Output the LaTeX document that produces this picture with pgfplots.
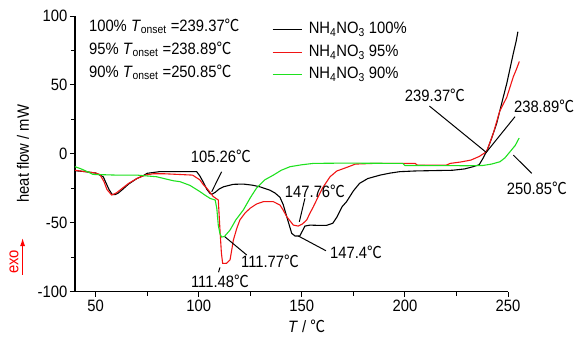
\documentclass[border=0pt]{standalone}
\usepackage{fontspec}
\setmainfont{Liberation Sans}[FakeStretch=0.9]
\newfontfamily\cjk{Noto Sans CJK SC}[FakeStretch=0.9]
\usepackage{pgfplots}
\pgfplotsset{compat=1.18}
\usetikzlibrary{arrows.meta}
\newcommand{\dc}{{\cjk ℃}}
\definecolor{cgreen}{RGB}{30,225,30}
\definecolor{cred}{RGB}{240,20,20}
\begin{document}
\begin{tikzpicture}[font=\fontsize{16.5}{19}\selectfont]
\useasboundingbox (-75bp,-46.5bp) rectangle (512bp,291.5bp);
\begin{axis}[
  at={(0,0)}, anchor=south west,
  scale only axis, width=433bp, height=275.5bp,
  xmin=40, xmax=250, ymin=-100, ymax=100,
  axis x line*=bottom, axis y line*=left,
  axis line style={line width=1.2pt},
  xtick={50,100,150,200,250}, minor xtick={75,125,175,225},
  ytick={-100,-50,0,50,100}, minor ytick={-75,-25,25,75},
  tick align=outside,
  major tick length=5bp, minor tick length=4bp,
  every tick/.style={line width=1pt, black},
  /pgf/number format/assume math mode=true,
  yticklabel style={inner sep=2.5bp},
  clip=false,
  xlabel={\textit{T} / \dc},
  ylabel={heat flow / mW},
  xlabel style={at={(axis description cs:0.535,-0.125)}, anchor=center},
  ylabel style={at={(axis description cs:-0.12,0.5)}, anchor=center},
  legend image code/.code={\draw[#1] (0bp,0bp) -- (29bp,0bp);},
  legend style={at={(axis description cs:0.448,0.99)}, anchor=north west,
    draw=none, fill=none, row sep=5bp,
    nodes={inner sep=1.5bp, text height=11.5bp, text depth=3bp},
    /tikz/every odd column/.append style={column sep=5bp}},
  legend cell align=left,
]
\addplot[black, line width=1.1pt] coordinates {
(40,-12.3) (45,-13) (50,-14) (53.7,-16.7) (55,-21) (56.5,-26) (58,-29.5) (59.4,-29.7) (61,-28.5) (63,-26) (66,-22) (70,-18) (73,-16) (75,-14.2) (81,-13) (90,-13) (99,-13)
(100.5,-16) (102,-20) (104,-26) (105.5,-28.8) (106.3,-29.5) (108,-28) (110,-25.5) (112,-24) (116.8,-22.2) (121.6,-22) (126,-22.8) (129.7,-24) (134.6,-26.5) (137,-28.5) (139.4,-31.6) (141,-37) (142.7,-45.7) (145.1,-57.8) (146.7,-59.7) (149,-59.7) (150.3,-56) (151.5,-52.5) (154,-51.8) (158,-52) (162,-52) (165,-50.5) (167,-46) (169.5,-38.5) (171.7,-34.8) (175,-27) (178,-21.5) (182,-18) (188,-15.5) (193,-14) (197.6,-13) (205,-12.5) (215,-12.2) (223,-12) (229,-11) (233,-9.4) (236,-8) (238,-3) (240,3) (242,11) (244.5,22) (247,37) (249.4,51) (251,62) (252.6,73) (254,82) (254.8,88.6)
};
\addlegendentry{NH\textsubscript{4}NO\textsubscript{3} 100\%}
\addplot[cred, line width=1.1pt] coordinates {
(40,-12) (45,-13) (50,-14) (52,-15) (54,-20) (55.5,-26) (57.8,-30) (60,-28.5) (63,-25) (66,-21.5) (70,-18) (74,-15.5) (78,-14.5) (83,-14.5) (90,-15) (97,-15.5)
(100.6,-19) (102,-22) (103.9,-25) (105.5,-28) (107,-31) (109.5,-33.6) (110.3,-55) (111,-72) (111.6,-79.6) (113.5,-79.5) (115.2,-77) (116,-70) (116.8,-62.7) (118.5,-54) (120,-48) (122.5,-43) (124.9,-39.6) (128,-36.5) (131.3,-34.8) (136.2,-34.8) (139.4,-37.2) (141,-41) (142.7,-45.7) (145.9,-51.8) (148.3,-52.5) (150.3,-51) (152.4,-48) (154,-43) (155.6,-38.5) (158,-31) (160,-25) (163.7,-16.7) (167,-12.5) (171.8,-9.9) (176,-7.5) (185,-7) (205,-7) (206,-8.3) (220,-8.3) (222,-7) (227,-6) (232,-4.6) (236,-2) (239.6,1.5) (242.9,15) (246,31) (249.4,41) (252.6,56) (254,61) (255.5,67)
};
\addlegendentry{NH\textsubscript{4}NO\textsubscript{3} 95\%}
\addplot[cgreen, line width=1.1pt] coordinates {
(40,-9.4) (43,-11) (46,-13) (48.7,-15) (60,-15.5) (70,-15.5) (79.6,-16.7) (84,-18.3) (87.7,-19.6) (91,-20.3) (95.8,-23) (100.6,-27.5) (103,-30) (105.5,-32.4) (108,-33.6)
(108.8,-40) (109.5,-52) (110.3,-58) (111.1,-60.5) (112.5,-60) (115.2,-55.4) (118,-48) (121.6,-40.9) (125,-32) (128,-25) (132,-19) (136.2,-15.5) (140,-12) (144.3,-9.4) (150,-8) (155.6,-7) (170,-6.8) (199,-7) (200,-8.5) (230,-8.7) (237.9,-8.5) (242,-7.5) (246.1,-5.8) (248.5,-3) (251,1.5) (253.5,6) (255.4,11.4)
};
\addlegendentry{NH\textsubscript{4}NO\textsubscript{3} 90\%}

% annotations
\draw[line width=1pt] (axis cs:111.1,-13.1) -- (axis cs:106.3,-27.6);
\node at (axis cs:110.8,-2.2) {105.26\dc};
\draw[line width=1pt] (axis cs:112.7,-60.3) -- (axis cs:123.3,-73.5);
\node at (axis cs:134.6,-78.4) {111.77\dc};
\draw[line width=1pt] (axis cs:110.3,-82.5) -- (axis cs:109.6,-86);
\node at (axis cs:110.3,-92.9) {111.48\dc};
\draw[line width=1pt] (axis cs:151.5,-32.4) -- (axis cs:148.8,-49.4);
\node at (axis cs:156.4,-27.6) {147.76\dc};
\draw[line width=1pt] (axis cs:148.3,-59.7) -- (axis cs:161.7,-70.4);
\node at (axis cs:176.3,-71.9) {147.4\dc};
\draw[line width=1pt] (axis cs:211.9,34.6) -- (axis cs:239.7,0.7);
\node at (axis cs:214.6,42.6) {239.37\dc};
\draw[line width=1pt] (axis cs:253.4,26.9) -- (axis cs:239.7,1.5);
\node at (axis cs:267.5,34.1) {238.89\dc};
\draw[line width=1pt] (axis cs:252.6,-1) -- (axis cs:261.5,-14.2);
\node at (axis cs:264,-25) {250.85\dc};

% onset text block
\node[anchor=base west, inner sep=0] at (axis description cs:0.032,0.945) {100\% \textit{T}\textsubscript{onset} =239.37\dc};
\node[anchor=base west, inner sep=0] at (axis description cs:0.032,0.862) {95\% \textit{T}\textsubscript{onset} =238.89\dc};
\node[anchor=base west, inner sep=0] at (axis description cs:0.032,0.778) {90\% \textit{T}\textsubscript{onset} =250.85\dc};

% exo
\node[red, rotate=90] at (axis description cs:-0.141,0.107) {exo};
\draw[red, line width=1pt, -{Latex[length=8bp,width=5bp]}] (axis description cs:-0.121,0.06) -- (axis description cs:-0.121,0.194);
\end{axis}
\end{tikzpicture}
\end{document}
